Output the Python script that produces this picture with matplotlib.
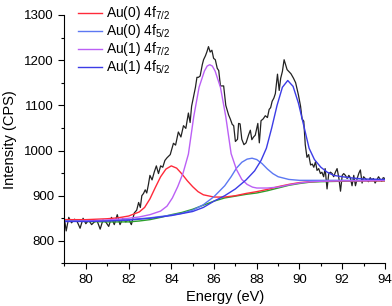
import matplotlib
matplotlib.use('Agg')
import matplotlib.pyplot as plt
from matplotlib.ticker import MultipleLocator

plt.rcParams['font.family'] = ['Liberation Sans', 'DejaVu Sans']
plt.rcParams['mathtext.default'] = 'regular'

# measured spectrum (energy eV, counts)
energy = [79.00, 79.08, 79.20, 79.33, 79.47, 79.60, 79.73, 79.87, 80.00, 80.13,
          80.27, 80.40, 80.53, 80.67, 80.80, 80.93, 81.07, 81.20, 81.33, 81.47,
          81.60, 81.73, 81.87, 82.00, 82.13, 82.27, 82.38, 82.47, 82.55, 82.62,
          82.70, 82.78, 82.85, 82.93, 83.00, 83.10, 83.20, 83.30, 83.40, 83.50,
          83.60, 83.70, 83.80, 83.95, 84.10, 84.20, 84.33, 84.45, 84.57, 84.68,
          84.80, 84.88, 84.95, 85.04, 85.13, 85.20, 85.27, 85.35, 85.45, 85.51,
          85.60, 85.67, 85.74, 85.82, 85.90, 85.98, 86.06, 86.15, 86.22, 86.30,
          86.45, 86.55, 86.68, 86.76, 86.85, 86.92, 87.00, 87.10, 87.15, 87.22,
          87.30, 87.40, 87.50, 87.62, 87.70, 87.77, 87.85, 87.93, 88.05, 88.12,
          88.20, 88.30, 88.40, 88.50, 88.58, 88.65, 88.72, 88.80, 88.87, 88.97,
          89.05, 89.12, 89.20, 89.28, 89.35, 89.42, 89.50, 89.60, 89.72, 89.82,
          89.95, 90.05, 90.12, 90.20, 90.27, 90.35, 90.43, 90.52, 90.60, 90.67,
          90.75, 90.82, 90.90, 90.98, 91.05, 91.13, 91.20, 91.29, 91.37, 91.45,
          91.53, 91.60, 91.68, 91.76, 91.84, 91.92, 92.00, 92.07, 92.15, 92.23,
          92.31, 92.38, 92.46, 92.54, 92.62, 92.70, 92.78, 92.85, 92.93, 93.00,
          93.08, 93.15, 93.23, 93.31, 93.38, 93.46, 93.54, 93.62, 93.70, 93.78,
          93.85, 93.92, 94.00]
counts = [848, 822, 852, 840, 848, 842, 828, 850, 838, 846,
          836, 842, 844, 826, 846, 842, 832, 852, 836, 858,
          836, 850, 842, 848, 836, 862, 868, 885, 874, 900,
          905, 913, 906, 925, 945, 935, 952, 966, 949, 966,
          963, 978, 984, 991, 1016, 1012, 1041, 1030, 1055, 1049,
          1083, 1062, 1098, 1119, 1140, 1162, 1162, 1165, 1190, 1201,
          1210, 1219, 1230, 1218, 1222, 1204, 1201, 1182, 1177, 1143,
          1143, 1100, 1079, 1070, 1058, 1055, 1020, 1025, 1060, 1059,
          1025, 1013, 1017, 1035, 1045, 1024, 1030, 1034, 1060, 1017,
          1066, 1070, 1077, 1073, 1091, 1095, 1109, 1116, 1126, 1169,
          1133, 1160, 1175, 1201, 1190, 1179, 1175, 1170, 1160, 1150,
          1123, 1098, 1070, 1065, 1013, 985, 991, 968, 970, 963,
          975, 956, 960, 949, 952, 942, 960, 915, 949, 952,
          949, 942, 952, 960, 940, 910, 945, 949, 945, 938,
          945, 940, 922, 945, 922, 938, 950, 957, 928, 942,
          938, 935, 931, 940, 935, 938, 928, 935, 942, 936,
          932, 940, 938]

# background
bg_x = [79, 80, 81, 82, 82.5, 83, 83.5, 84, 84.5, 85, 85.5, 86, 86.5, 87, 87.5,
        88, 88.5, 89, 89.5, 90, 90.5, 91, 92, 93, 94]
bg_y = [846, 843, 842, 842, 844, 847, 852, 858, 863, 870, 879, 888, 895, 899, 903,
        906, 911, 917, 923, 927, 930, 931, 932, 933, 933]

# Au(0) 4f7/2
red_x = [79, 80, 81, 81.5, 82, 82.5, 82.75, 83, 83.25, 83.5, 83.75, 84, 84.25,
         84.5, 84.75, 85, 85.25, 85.5, 86, 86.5, 87, 87.5, 88, 88.5, 89, 89.5,
         90, 90.5, 91, 92, 93, 94]
red_y = [847, 847, 849, 851, 855, 864, 874, 893, 918, 942, 959, 966, 961,
         948, 933, 920, 909, 902, 897, 897, 900, 905, 909, 914, 920, 925,
         929, 931, 932, 933, 933, 933]

# Au(1) 4f7/2
mag_x = [79, 80, 81, 82, 82.5, 83, 83.5, 83.8, 84.05, 84.3, 84.55, 84.8, 85.05,
         85.3, 85.55, 85.68, 85.8, 85.92, 86.05, 86.3, 86.55, 86.8, 87.05, 87.3,
         87.55, 87.8, 88, 88.5, 89, 89.5, 90, 90.5, 91, 92, 93, 94]
mag_y = [843, 844, 846, 850, 853, 858, 866, 877, 895, 920, 950, 992, 1075,
         1140, 1176, 1187, 1190, 1187, 1176, 1140, 1075, 993, 958, 936,
         925, 919, 917, 917, 919, 924, 928, 931, 932, 933, 933, 934]

# Au(0) 4f5/2
b1_x = [79, 80, 81, 82, 83, 84, 84.5, 85, 85.5, 86, 86.5, 86.8, 87.05, 87.3,
        87.55, 87.78, 88.0, 88.25, 88.5, 88.75, 89, 89.5, 90, 90.5, 91, 92, 93, 94]
b1_y = [844, 844, 845, 847, 851, 857, 861, 868, 880, 898, 922, 942, 961, 974,
        981, 983, 980, 971, 959, 949, 942, 936, 934, 934, 934, 934, 934, 934]

# Au(1) 4f5/2
b2_x = [79, 80, 81, 82, 83, 84, 85, 85.5, 86, 86.5, 87, 87.5, 87.9, 88.2, 88.45,
        88.7, 88.95, 89.2, 89.45, 89.7, 89.95, 90.2, 90.45, 90.7, 91, 91.3, 91.6,
        92, 92.5, 93, 94]
b2_y = [843, 843, 844, 846, 850, 856, 865, 874, 888, 900, 915, 935, 955, 978, 1005,
        1050, 1100, 1140, 1155, 1142, 1105, 1055, 1005, 980, 963, 952, 945,
        942, 939, 937, 936]

fig = plt.figure(figsize=(3.92, 3.06), dpi=100)
ax = fig.add_axes([0.1645, 0.139, 0.8175, 0.812])

ax.plot(energy, counts, color='#222222', lw=0.9)
ax.plot(bg_x, bg_y, color='#2ca02c', lw=1.0)
ax.plot(red_x, red_y, color='#ff2a3a', lw=1.0, label='Au(0) 4f$_{7/2}$')
ax.plot(b1_x, b1_y, color='#5c78f2', lw=1.0, label='Au(0) 4f$_{5/2}$')
ax.plot(mag_x, mag_y, color='#bb60f5', lw=1.0, label='Au(1) 4f$_{7/2}$')
ax.plot(b2_x, b2_y, color='#3c3ce6', lw=1.0, label='Au(1) 4f$_{5/2}$')

ax.set_xlim(79, 94)
ax.set_ylim(750, 1300)
ax.xaxis.set_major_locator(MultipleLocator(2))
ax.xaxis.set_minor_locator(MultipleLocator(1))
ax.yaxis.set_minor_locator(MultipleLocator(50))
ax.set_yticks([800, 900, 1000, 1100, 1200, 1300])
ax.spines['top'].set_visible(False)
ax.spines['right'].set_visible(False)
ax.tick_params(which='major', direction='out', length=4, width=0.8, labelsize=9.5)
ax.tick_params(which='minor', direction='out', length=2.5, width=0.8)

ax.set_xlabel('Energy (eV)', fontsize=10.5, labelpad=3)
ax.set_ylabel('Intensity (CPS)', fontsize=10.5, labelpad=5)

ax.legend(loc='upper left', bbox_to_anchor=(0.025, 1.065), frameon=False,
          fontsize=10, handlelength=1.7, handletextpad=0.3, labelspacing=0.0,
          borderaxespad=0)

fig.savefig('out.png', dpi=100)
